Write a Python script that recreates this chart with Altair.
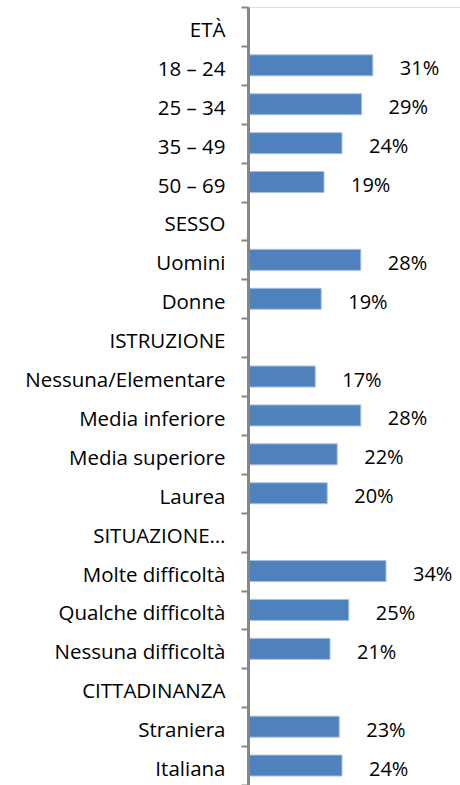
import altair as alt
import pandas as pd

categories = ["ETÀ", "18 – 24", "25 – 34", "35 – 49", "50 – 69",
              "SESSO", "Uomini", "Donne",
              "ISTRUZIONE", "Nessuna/Elementare", "Media inferiore", "Media superiore", "Laurea",
              "SITUAZIONE…", "Molte difficoltà", "Qualche difficoltà", "Nessuna difficoltà",
              "CITTADINANZA", "Straniera", "Italiana"]
values = [None, 31.2, 28.4, 23.5, 19.0,
          None, 28.2, 18.3,
          None, 16.8, 28.2, 22.3, 19.8,
          None, 34.5, 25.2, 20.5,
          None, 22.8, 23.5]
labels = ["", "31%", "29%", "24%", "19%",
          "", "28%", "19%",
          "", "17%", "28%", "22%", "20%",
          "", "34%", "25%", "21%",
          "", "23%", "24%"]

df = pd.DataFrame({"cat": categories, "value": values, "label": labels})

y = alt.Y("cat:N", sort=None,
          scale=alt.Scale(domain=categories, paddingInner=0, paddingOuter=0),
          axis=alt.Axis(title=None, domainColor="#868686", domainWidth=3,
                        tickColor="#868686", tickWidth=2, tickSize=7, tickBand="extent",
                        labelFont="Open Sans", labelFontSize=20.5, labelColor="#000000",
                        labelPadding=16, labelOffset=4, labelLimit=300, zindex=1))
x = alt.X("value:Q", scale=alt.Scale(domain=[0, 53], nice=False, zero=True), axis=None)

bars = alt.Chart(df).mark_bar(size=21, color="#4F81BD", stroke="#A9C0DF", strokeWidth=1).encode(x=x, y=y)
text = alt.Chart(df).mark_text(align="left", baseline="middle", dx=27, dy=4,
                               font="Open Sans", fontSize=20, color="#000000").encode(x=x, y=y, text="label:N")

chart = (bars + text).properties(
    width=212, height=778,
    autosize=alt.AutoSizeParams(type="none"),
    padding={"left": 248, "top": 7, "right": 0, "bottom": 0},
).configure_view(stroke=None).configure(background="white")

chart.save("out.html", embed_options={"renderer": "svg", "actions": False})
